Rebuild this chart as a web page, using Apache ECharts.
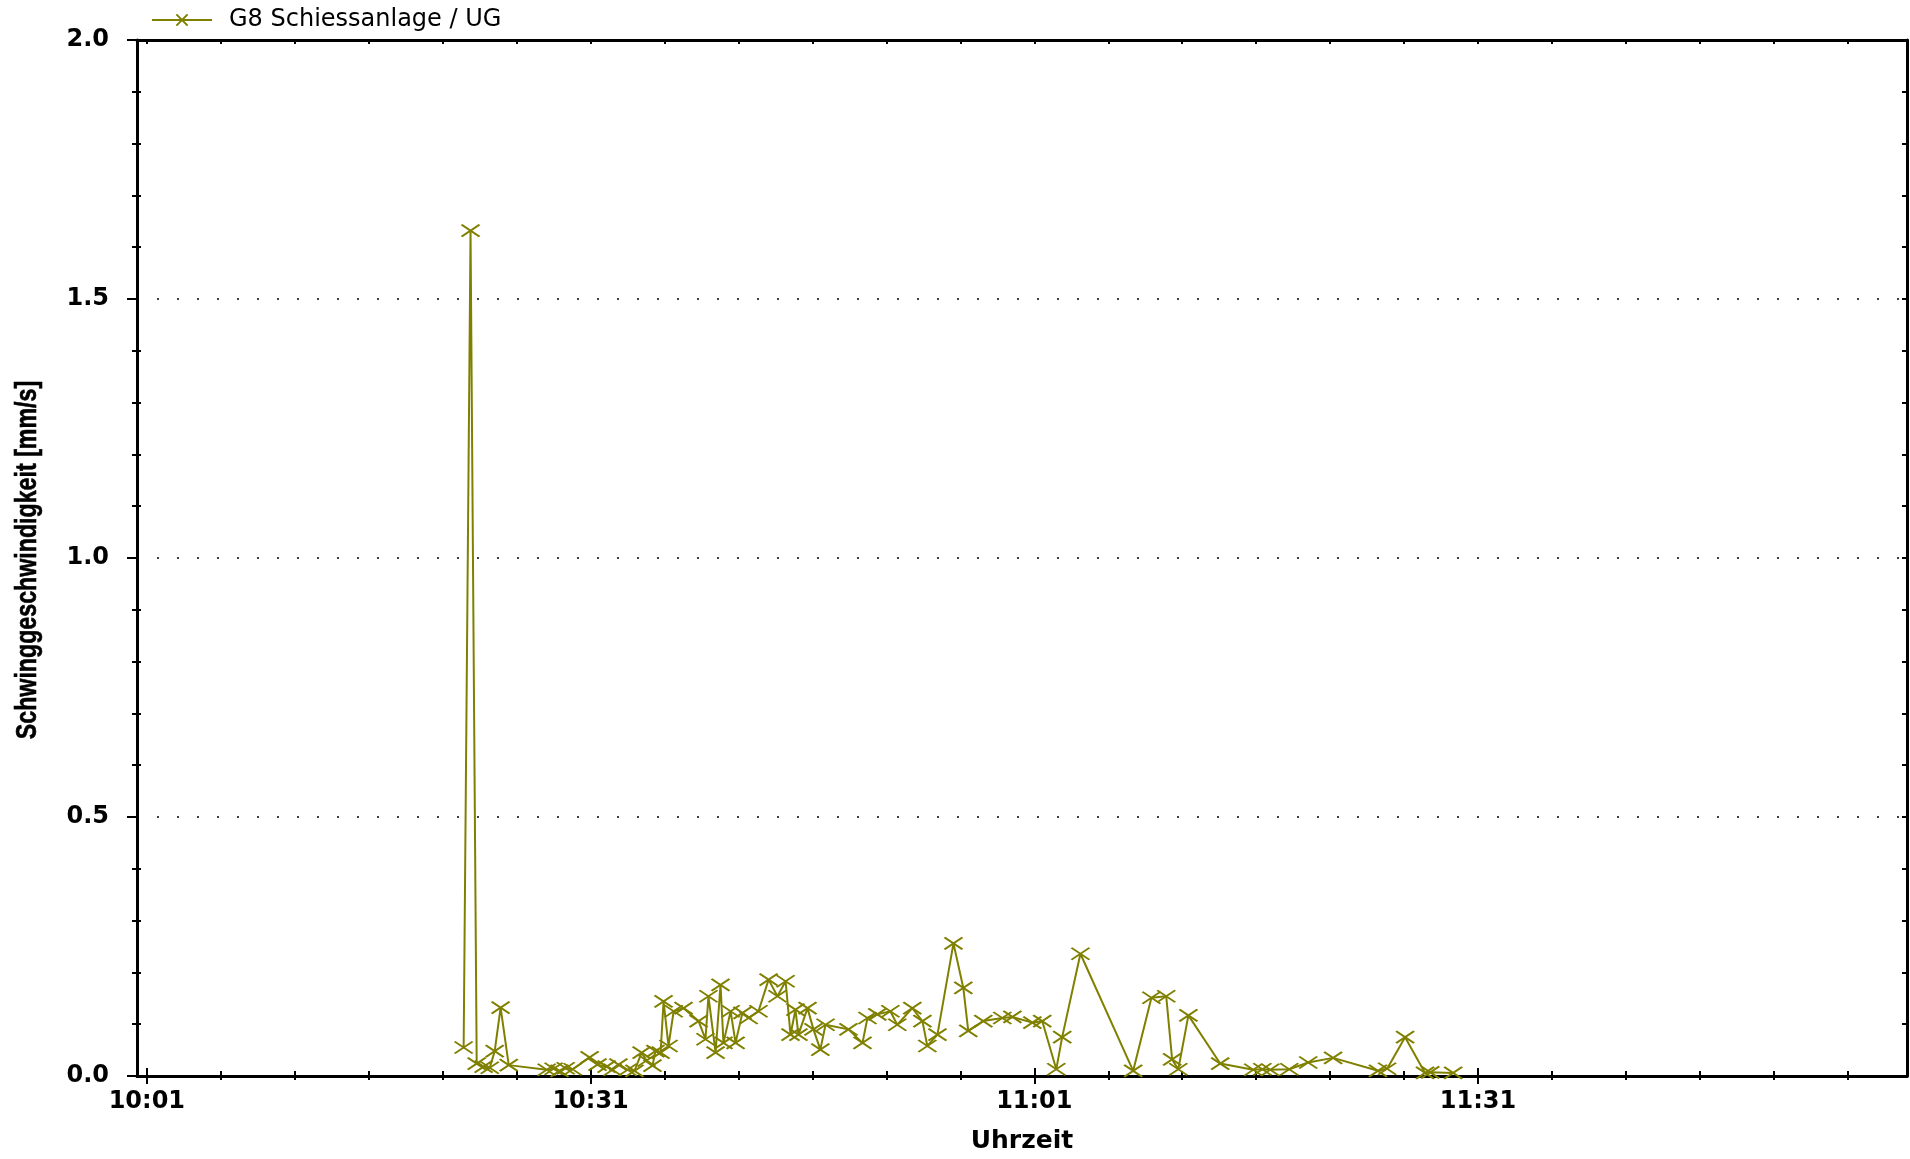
<!DOCTYPE html>
<html>
<head>
<meta charset="utf-8">
<title>G8 Schiessanlage / UG</title>
<script src="https://cdn.jsdelivr.net/npm/echarts@6/dist/echarts.min.js"></script>
<style>
  html, body { margin: 0; padding: 0; background: #fff; }
  #chart { width: 1910px; height: 1159px; }
</style>
</head>
<body>
<div id="chart"></div>
<script>
// Messreihe G8 Schiessanlage / UG: Zeitpunkt und Schwinggeschwindigkeit [mm/s]
const seriesName = 'G8 Schiessanlage / UG';
const yTitle = 'Schwinggeschwindigkeit [mm/s]';
const xTitle = 'Uhrzeit';
const times = [
  '10:22:25', '10:22:53', '10:23:18', '10:23:46', '10:24:11', '10:24:31', '10:24:55', '10:25:28',
  '10:28:02', '10:28:30', '10:28:54', '10:29:19', '10:29:47', '10:30:56', '10:31:28', '10:32:05',
  '10:32:29', '10:32:53', '10:33:30', '10:33:58', '10:34:27', '10:34:47', '10:35:11', '10:35:23',
  '10:35:44', '10:35:56', '10:36:16', '10:36:37', '10:37:17', '10:38:18', '10:38:46', '10:38:58',
  '10:39:27', '10:39:47', '10:39:59', '10:40:28', '10:40:48', '10:41:16', '10:41:41', '10:42:21',
  '10:43:02', '10:43:38', '10:44:11', '10:44:31', '10:44:51', '10:45:03', '10:45:40', '10:46:04',
  '10:46:32', '10:46:53', '10:48:26', '10:49:23', '10:49:43', '10:50:23', '10:51:16', '10:51:44',
  '10:52:45', '10:53:26', '10:53:46', '10:54:27', '10:55:32', '10:56:12', '10:56:32', '10:57:33',
  '10:58:50', '10:59:31', '11:00:52', '11:01:32', '11:02:29', '11:02:53', '11:04:07', '11:07:41',
  '11:08:55', '11:09:55', '11:10:19', '11:10:44', '11:11:25', '11:13:34', '11:15:48', '11:16:25',
  '11:16:57', '11:18:14', '11:19:31', '11:21:12', '11:24:14', '11:24:51', '11:26:04', '11:27:25',
  '11:27:46', '11:29:19'
];
const values = [
  0.055, 1.632, 0.024, 0.018, 0.016, 0.048, 0.132, 0.021,
  0.012, 0.014, 0.010, 0.015, 0.013, 0.036, 0.022, 0.018,
  0.012, 0.022, 0.012, 0.010, 0.045, 0.030, 0.020, 0.048,
  0.045, 0.144, 0.058, 0.125, 0.131, 0.106, 0.071, 0.154,
  0.045, 0.176, 0.064, 0.125, 0.064, 0.122, 0.112, 0.125,
  0.186, 0.154, 0.183, 0.080, 0.128, 0.080, 0.131, 0.090,
  0.051, 0.099, 0.090, 0.064, 0.112, 0.119, 0.125, 0.099,
  0.131, 0.106, 0.058, 0.080, 0.256, 0.170, 0.087, 0.106,
  0.112, 0.114, 0.103, 0.106, 0.013, 0.075, 0.236, 0.010,
  0.151, 0.154, 0.032, 0.013, 0.117, 0.024, 0.012, 0.013,
  0.012, 0.013, 0.026, 0.035, 0.010, 0.014, 0.075, 0.006,
  0.007, 0.006
];
// beschriftete Zeitmarken der x-Achse, Nebenmarken alle 5 Minuten
const timeLabels = ['10:01', '10:31', '11:01', '11:31'];
const minorStepMin = 5;
const axisStart = '10:00:20';
const axisEnd = '12:00:00';

// Uhrzeit -> Minuten seit 10:00
function toMin(s) {
  const p = s.split(':').map(Number);
  return (p[0] - 10) * 60 + p[1] + (p[2] || 0) / 60;
}
function toClock(m) {
  const total = Math.round(m);
  const h = 10 + Math.floor(total / 60);
  const mm = total % 60;
  return h + ':' + String(mm).padStart(2, '0');
}

const xMin = toMin(axisStart);
const xMax = toMin(axisEnd);
const majorX = timeLabels.map(toMin);
const minorX = [];
for (let t = majorX[0]; t < xMax; t += minorStepMin) minorX.push(t);
const minorY = [];
for (let i = 1; i < 20; i++) if (i % 5 !== 0) minorY.push(i / 10);
const allInnerY = [];
for (let i = 1; i < 20; i++) allInnerY.push(i / 10);

const points = times.map((t, i) => [toMin(t), values[i]]);

const OLIVE = '#808000';
const tickFont = { fontFamily: 'DejaVu Sans', fontWeight: 'bold', fontSize: 24, color: '#000' };
const black = '#000';

function xBase(extra) {
  return Object.assign({
    type: 'value', min: xMin, max: xMax, gridIndex: 0,
    axisLine: { show: false, onZero: false },
    axisLabel: { show: false },
    splitLine: { show: false },
    minorTick: { show: false }
  }, extra);
}
function yBase(extra) {
  return Object.assign({
    type: 'value', min: 0, max: 2, interval: 0.5, gridIndex: 0,
    axisLine: { show: false, onZero: false },
    axisLabel: { show: false },
    splitLine: { show: false }
  }, extra);
}

const option = {
  animation: false,
  backgroundColor: '#fff',
  grid: { left: 137, right: 3, top: 40, bottom: 79, containLabel: false },
  legend: {
    data: [seriesName],
    left: 146, top: 3,
    itemWidth: 60, itemHeight: 14,
    textStyle: { fontFamily: 'DejaVu Sans', fontSize: 24, color: '#000', padding: [0, 0, 0, 12] }
  },
  // senkrechter Achsentitel, schmal gesetzt
  graphic: [{
    type: 'text',
    x: 28, y: 560,
    rotation: Math.PI / 2,
    scaleX: 0.8,
    silent: true,
    style: {
      text: yTitle,
      fontFamily: 'Liberation Sans',
      fontWeight: 'bold',
      fontSize: 29,
      fill: '#000',
      stroke: '#000',
      lineWidth: 0.6,
      align: 'center',
      verticalAlign: 'middle'
    }
  }],
  xAxis: [
    xBase({
      position: 'bottom',
      axisLine: { show: true, onZero: false, lineStyle: { color: black, width: 3 } },
      axisTick: { show: true, customValues: majorX, length: 8, lineStyle: { color: black, width: 2 } },
      axisLabel: { show: true, customValues: majorX, formatter: v => toClock(v), margin: 14, ...tickFont },
      name: xTitle, nameLocation: 'middle', nameGap: 53,
      nameTextStyle: { fontFamily: 'DejaVu Sans', fontWeight: 'bold', fontSize: 25, color: '#000' }
    }),
    xBase({ position: 'bottom',
      axisTick: { show: true, inside: true, customValues: majorX, length: 8, lineStyle: { color: black, width: 2 } } }),
    xBase({ position: 'bottom',
      axisTick: { show: true, customValues: minorX, length: 4, lineStyle: { color: black, width: 2 } } }),
    xBase({ position: 'bottom',
      axisTick: { show: true, inside: true, customValues: minorX, length: 5, lineStyle: { color: black, width: 2 } } }),
    xBase({ position: 'top',
      axisLine: { show: true, onZero: false, lineStyle: { color: black, width: 3 } },
      axisTick: { show: true, inside: true, customValues: minorX, length: 4, lineStyle: { color: black, width: 2 } } })
  ],
  yAxis: [
    yBase({
      position: 'left',
      axisLine: { show: true, onZero: false, lineStyle: { color: black, width: 3 } },
      axisTick: { show: true, length: 10, lineStyle: { color: black, width: 2 } },
      minorTick: { show: true, splitNumber: 5, length: 5, lineStyle: { color: black, width: 2 } },
      axisLabel: { show: true, margin: 28, formatter: v => v.toFixed(1), ...tickFont },
      splitLine: { show: true, lineStyle: { color: '#000', width: 1.5, type: [2, 18] } }
    }),
    yBase({ position: 'left',
      axisTick: { show: true, inside: true, customValues: minorY, length: 4, lineStyle: { color: black, width: 2 } } }),
    yBase({ position: 'right',
      axisLine: { show: true, onZero: false, lineStyle: { color: black, width: 3 } },
      axisTick: { show: true, inside: true, customValues: allInnerY, length: 5, lineStyle: { color: black, width: 2 } } })
  ],
  series: [{
    name: seriesName,
    type: 'line',
    xAxisIndex: 0,
    yAxisIndex: 0,
    data: points,
    symbol: 'path://M0,0L18,12M18,0L0,12',
    symbolSize: [18, 12],
    symbolKeepAspect: false,
    showAllSymbol: true,
    lineStyle: { color: OLIVE, width: 2 },
    itemStyle: { color: OLIVE, borderColor: OLIVE, borderWidth: 2 },
    emphasis: { disabled: true },
    z: 3
  }]
};

const chart = echarts.init(document.getElementById('chart'), null, { renderer: 'canvas' });
chart.setOption(option);
</script>
</body>
</html>
